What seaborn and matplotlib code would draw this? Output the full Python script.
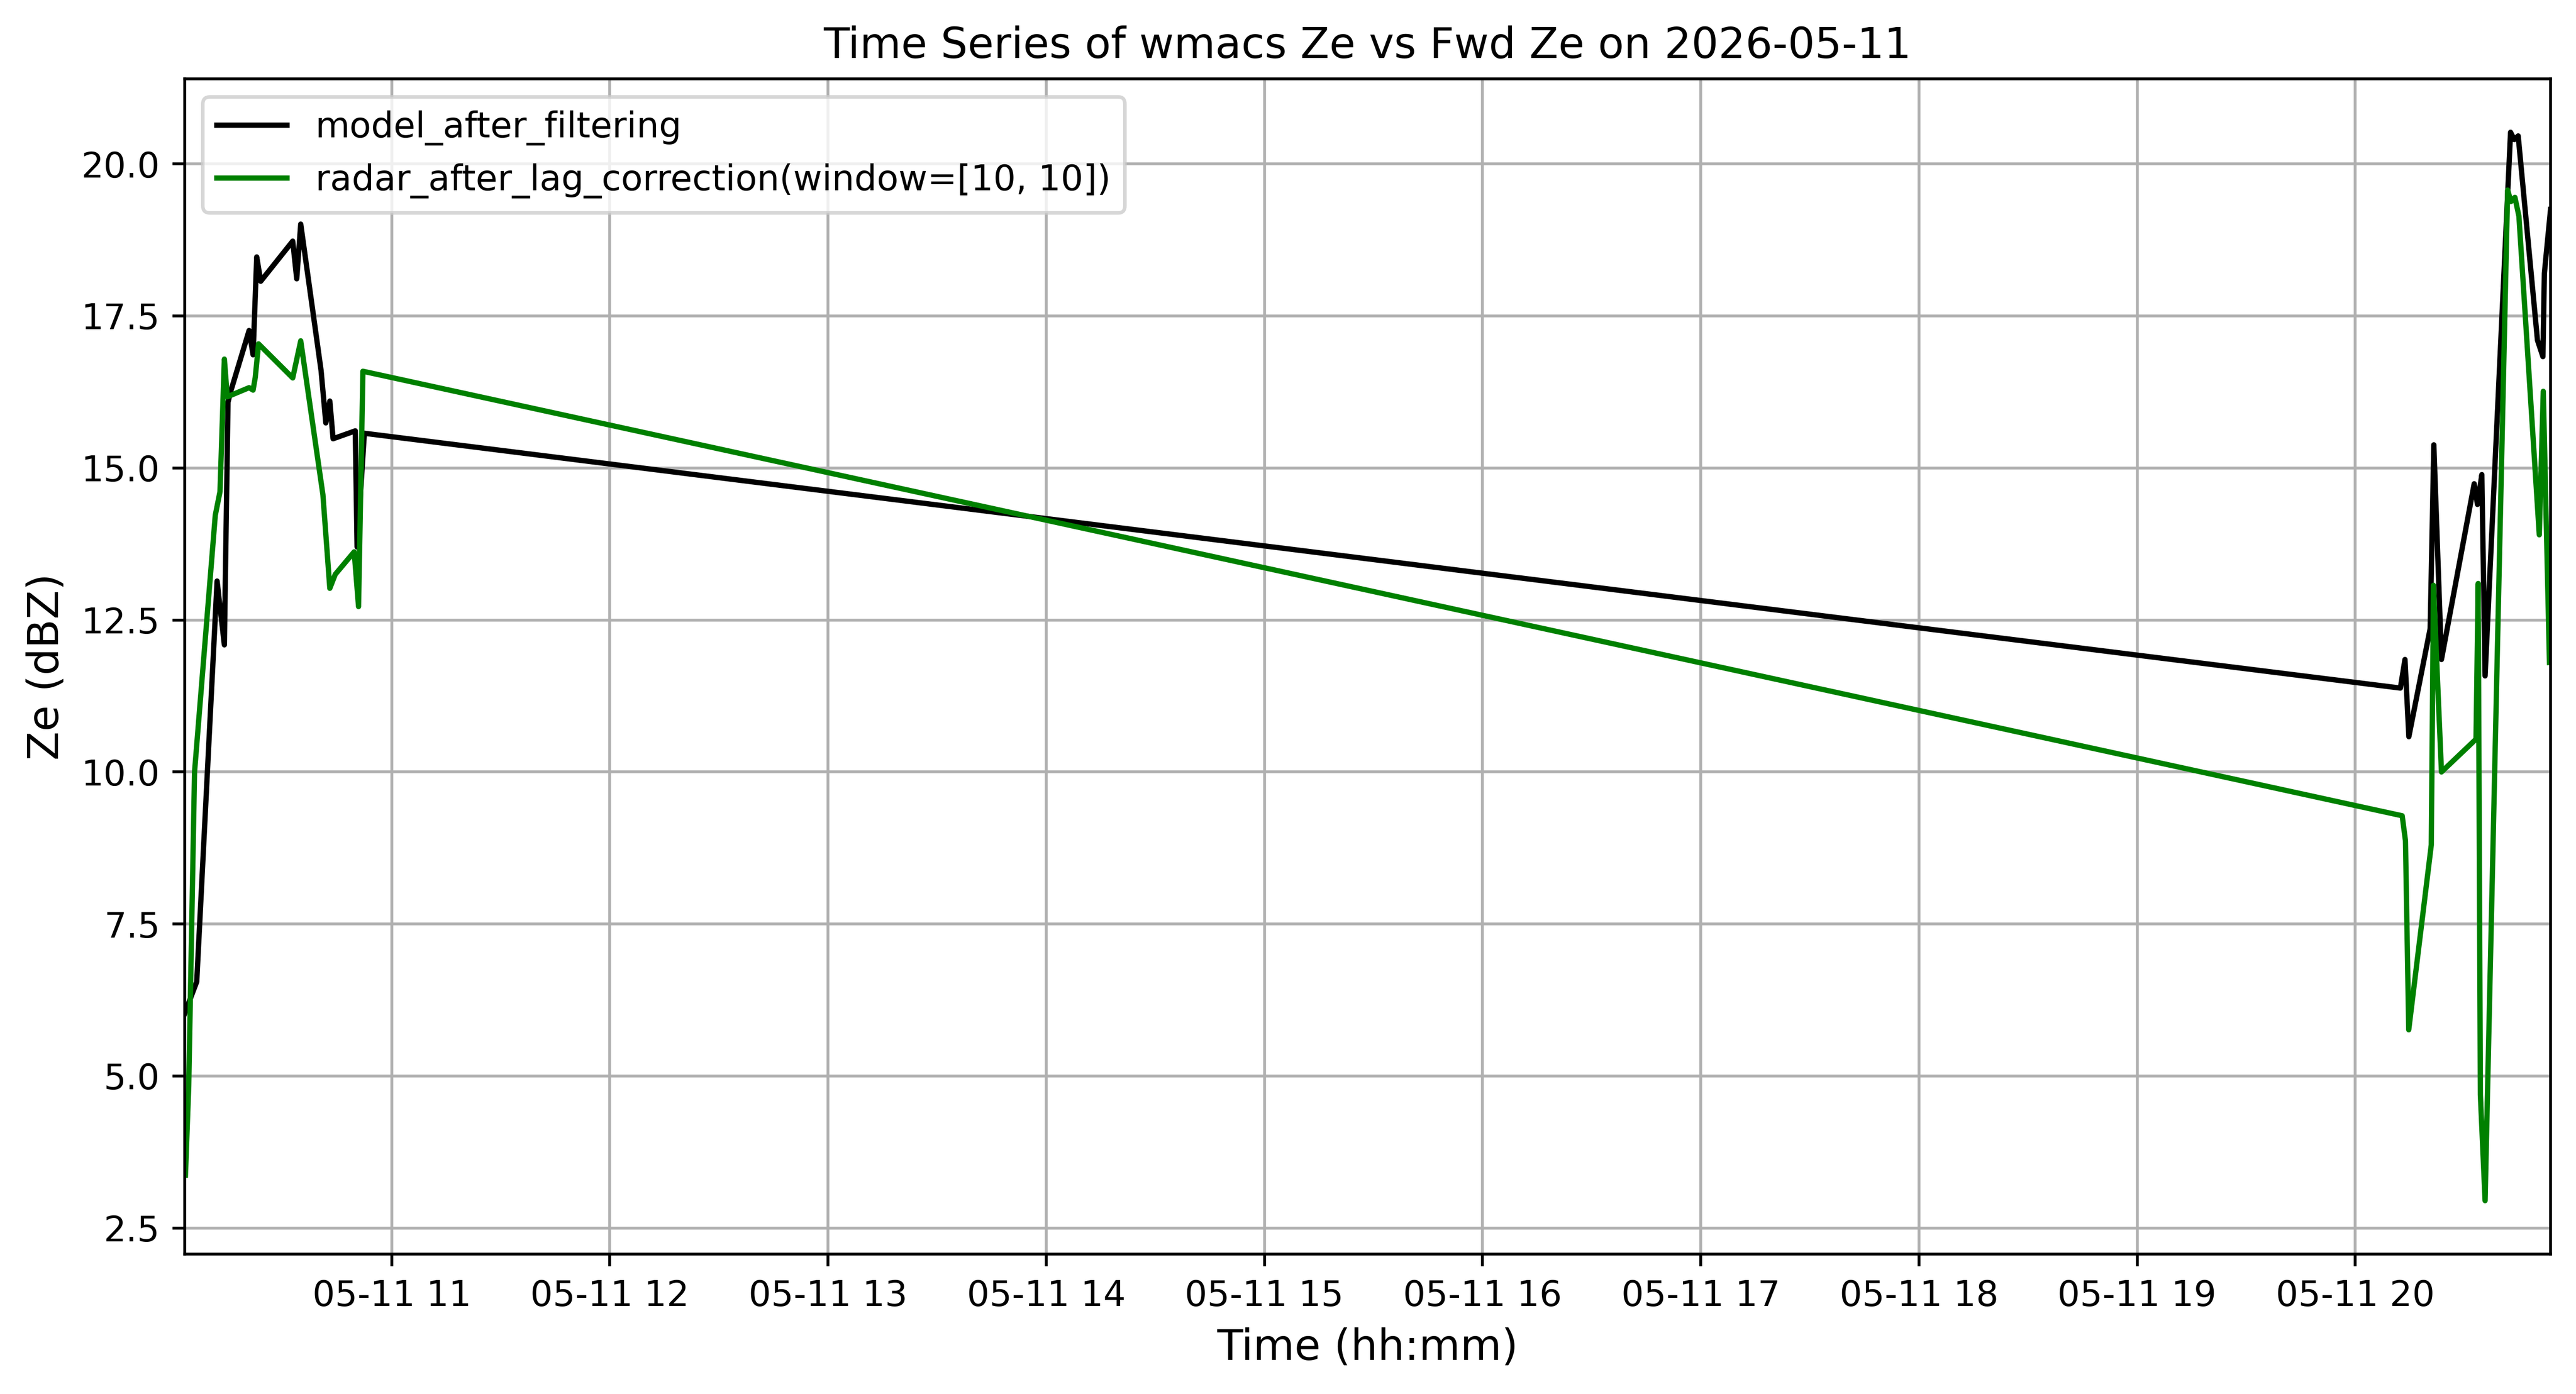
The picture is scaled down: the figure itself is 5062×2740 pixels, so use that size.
import matplotlib
matplotlib.use("Agg")
import matplotlib.pyplot as plt
import seaborn as sns
import pandas as pd

# ---- data ----
date = "2026-05-11"

model_times = [
    "10:03:06", "10:06:24", "10:12:00", "10:14:00", "10:15:00", "10:15:42",
    "10:20:48", "10:21:54", "10:22:54", "10:24:00", "10:32:48", "10:33:54",
    "10:35:00", "10:40:36", "10:41:54", "10:43:00", "10:43:54", "10:50:00",
    "10:50:30", "10:52:30",
    "20:12:24", "20:13:40", "20:14:44", "20:20:36", "20:21:36", "20:23:42",
    "20:32:42", "20:33:36", "20:34:48", "20:35:42", "20:42:42", "20:43:42",
    "20:44:48", "20:50:06", "20:51:36", "20:52:00", "20:53:42",
]
model_ze = [
    6.03, 6.55, 13.14, 12.09, 16.08, 16.25,
    17.26, 16.86, 18.47, 18.07, 18.73, 18.11,
    19.01, 16.60, 15.74, 16.10, 15.48, 15.61,
    13.70, 15.57,
    11.38, 11.85, 10.58, 12.36, 15.38, 11.85,
    14.74, 14.40, 14.89, 11.58, 20.52, 20.40,
    20.46, 17.10, 16.83, 18.20, 19.25,
]

radar_times = [
    "10:03:18", "10:04:12", "10:05:48", "10:11:30", "10:12:48", "10:14:00",
    "10:14:48", "10:20:48", "10:21:54", "10:22:30", "10:23:24", "10:32:48",
    "10:35:00", "10:41:06", "10:43:00", "10:44:30", "10:49:42", "10:50:54",
    "10:52:06",
    "20:12:54", "20:13:48", "20:14:42", "20:20:54", "20:21:30", "20:23:42",
    "20:33:12", "20:33:48", "20:34:24", "20:35:42", "20:41:54", "20:42:48",
    "20:43:54", "20:45:00", "20:50:36", "20:51:42", "20:53:24",
]
radar_ze = [
    3.37, 4.83, 10.00, 14.22, 14.61, 16.79,
    16.17, 16.32, 16.28, 16.49, 17.04, 16.48,
    17.09, 14.56, 13.02, 13.25, 13.62, 12.72,
    16.59,
    9.28, 8.87, 5.76, 8.80, 13.07, 10.00,
    10.54, 13.10, 4.69, 2.95, 19.57, 19.38,
    19.45, 19.14, 13.90, 16.26, 11.80,
]

model_label = "model_after_filtering"
radar_label = "radar_after_lag_correction(window=[10, 10])"
title = f"Time Series of wmacs Ze vs Fwd Ze on {date}"

# ---- build frames ----
model_df = pd.DataFrame({
    "time": pd.to_datetime([f"{date} {t}" for t in model_times]),
    "ze": model_ze,
})
radar_df = pd.DataFrame({
    "time": pd.to_datetime([f"{date} {t}" for t in radar_times]),
    "ze": radar_ze,
})

plt.rcParams["font.family"] = ["DejaVu Sans"]

fig = plt.figure(figsize=(5062 / 500, 2740 / 500), dpi=500)
ax = fig.add_axes([363 / 5062, 1 - 2465 / 2740, (5012 - 363) / 5062, (2465 - 155) / 2740])

sns.lineplot(data=model_df, x="time", y="ze", color="black", linewidth=1.5,
             label=model_label, ax=ax, errorbar=None, sort=False)
sns.lineplot(data=radar_df, x="time", y="ze", color="green", linewidth=1.5,
             label=radar_label, ax=ax, errorbar=None, sort=False)

tmin = min(model_df["time"].min(), radar_df["time"].min())
tmax = max(model_df["time"].max(), radar_df["time"].max())
ax.set_xlim(tmin, tmax)

ax.grid(True)
ax.set_title(title, fontsize=12)
ax.set_xlabel("Time (hh:mm)", fontsize=12)
ax.set_ylabel("Ze (dBZ)", fontsize=12)
ax.legend(loc="upper left", fontsize=10)

fig.savefig("out.png", dpi=500)
